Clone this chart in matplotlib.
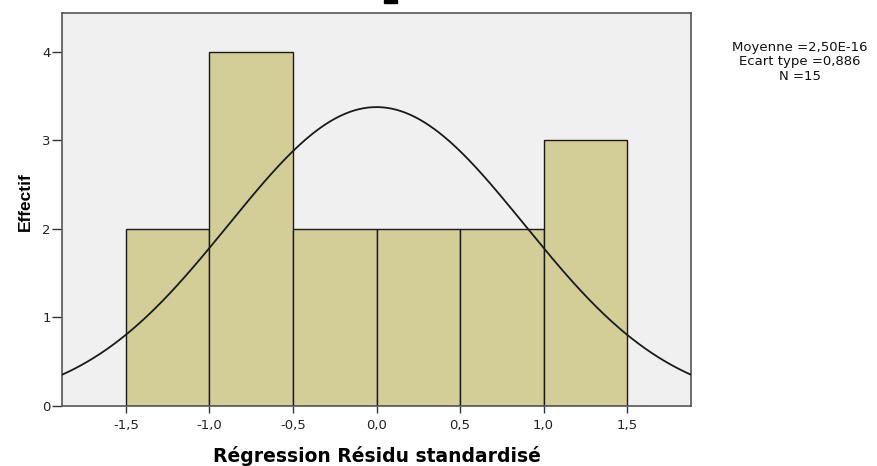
import numpy as np
import matplotlib
matplotlib.use("Agg")
import matplotlib.pyplot as plt

bin_edges = [-1.5, -1.0, -0.5, 0.0, 0.5, 1.0, 1.5]
counts = [2, 4, 2, 2, 2, 3]
mean_val = 2.50e-16
std_val = 0.886
n_val = 15
xtick_vals = [-1.5, -1.0, -0.5, 0.0, 0.5, 1.0, 1.5]
xtick_labels = ["-1,5", "-1,0", "-0,5", "0,0", "0,5", "1,0", "1,5"]
ytick_vals = [0, 1, 2, 3, 4]
stats_text = "Moyenne =2,50E-16\nEcart type =0,886\nN =15"

plt.rcParams['font.family'] = ['DejaVu Sans']

fig = plt.figure(figsize=(8.77, 4.66), dpi=100)
ax = fig.add_axes([62/877, 1-406/466, (691-62)/877, (406-13)/466])
ax.set_facecolor('#F0F0F0')

lefts = bin_edges[:-1]
widths = np.diff(bin_edges)
ax.bar(lefts, counts, width=widths, align='edge', color='#D3CE97',
       edgecolor='#1a1a1a', linewidth=1.0, zorder=2)

xlim = (-1.883, 1.883)
xs = np.linspace(xlim[0], xlim[1], 400)
bw = widths[0]
ys = n_val * bw / (std_val * np.sqrt(2*np.pi)) * np.exp(-0.5*((xs-mean_val)/std_val)**2)
ax.plot(xs, ys, color='#1a1a1a', linewidth=1.3, zorder=3)

ax.set_xlim(*xlim)
ax.set_ylim(0, 4.44)
ax.set_xticks(xtick_vals)
ax.set_xticklabels(xtick_labels, fontsize=9.5)
ax.set_yticks(ytick_vals)
ax.set_yticklabels([str(v) for v in ytick_vals], fontsize=9.5)
ax.tick_params(axis='x', length=5, width=1, color='#333333', pad=4.5, labelcolor='#222222')
ax.tick_params(axis='y', length=7, width=1, color='#333333', pad=1, labelcolor='#222222')
for s in ax.spines.values():
    s.set_color('#555555')
    s.set_linewidth(1.2)

ax.set_xlabel("Régression Résidu standardisé", fontsize=13.5, fontweight='bold')
ax.xaxis.set_label_coords(0.5, -(446-406)/393)
ax.set_ylabel("Effectif", fontsize=12.5, fontweight='bold', family=['Liberation Sans', 'DejaVu Sans'])
ax.yaxis.set_label_coords((33-62)/629, (406-202)/393)

fig.text(800/877, 1-62/466, stats_text,
         ha='center', va='center', fontsize=9.5, linespacing=1.13, color='#111111')

fig.patches.append(matplotlib.patches.Rectangle((384/877, 1-3/466), 13/877, 3/466,
                   transform=fig.transFigure, color='black'))

fig.savefig('out.png', dpi=100)
